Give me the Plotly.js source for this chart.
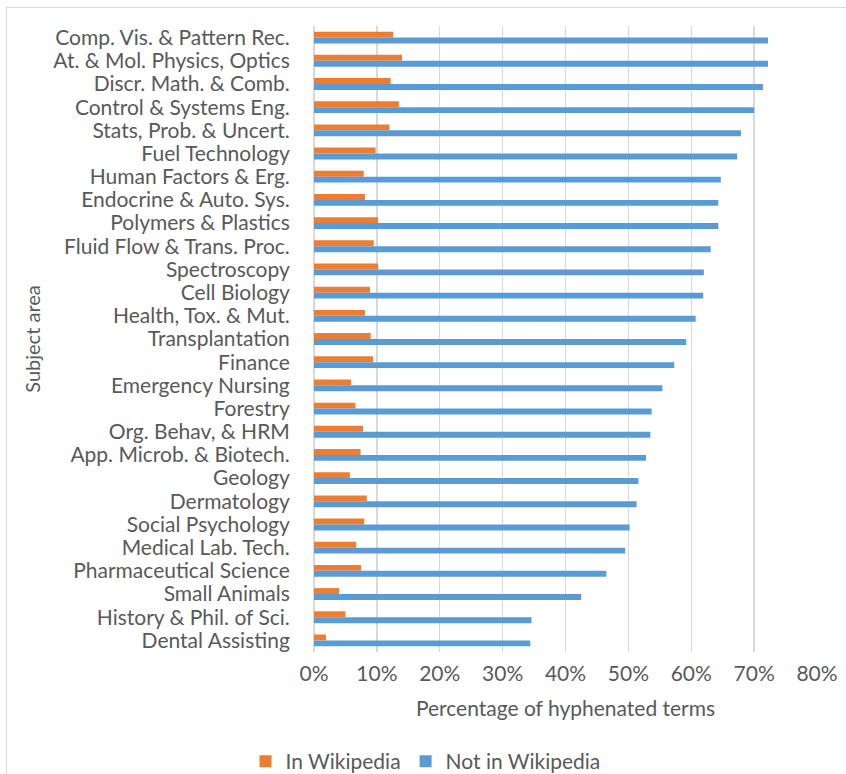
<!DOCTYPE html>
<html>
<head>
<meta charset="utf-8">
<script src="https://cdn.plot.ly/plotly-3.0.1.min.js"></script>
<style>
  html, body { margin: 0; padding: 0; background: #fff; }
  #wrap { position: relative; width: 846px; height: 774px; overflow: hidden; }
  #frame { position: absolute; left: 6px; top: 7px; width: 900px; height: 900px;
           border-top: 1.5px solid #d9d9d9; border-left: 1.5px solid #d9d9d9; pointer-events: none; }
  #chart { position: absolute; left: 0; top: 0; width: 846px; height: 774px; }
</style>
</head>
<body>
<div id="wrap">
  <div id="chart"></div>
  <div id="frame"></div>
</div>
<script>
const categories = [
  "Comp. Vis. & Pattern Rec.",
  "At. & Mol. Physics, Optics",
  "Discr. Math. & Comb.",
  "Control & Systems Eng.",
  "Stats, Prob. & Uncert.",
  "Fuel Technology",
  "Human Factors & Erg.",
  "Endocrine & Auto. Sys.",
  "Polymers & Plastics",
  "Fluid Flow & Trans. Proc.",
  "Spectroscopy",
  "Cell Biology",
  "Health, Tox. & Mut.",
  "Transplantation",
  "Finance",
  "Emergency Nursing",
  "Forestry",
  "Org. Behav, & HRM",
  "App. Microb. & Biotech.",
  "Geology",
  "Dermatology",
  "Social Psychology",
  "Medical Lab. Tech.",
  "Pharmaceutical Science",
  "Small Animals",
  "History & Phil. of Sci.",
  "Dental Assisting"
];

const inWikipedia = [
  0.126, 0.140, 0.122, 0.135, 0.120, 0.098, 0.079, 0.081, 0.102,
  0.095, 0.102, 0.089, 0.081, 0.090, 0.094, 0.059, 0.066, 0.078,
  0.074, 0.057, 0.084, 0.080, 0.067, 0.075, 0.040, 0.050, 0.019
];

const notInWikipedia = [
  0.722, 0.722, 0.714, 0.700, 0.679, 0.673, 0.647, 0.643, 0.643,
  0.631, 0.620, 0.619, 0.607, 0.592, 0.573, 0.554, 0.537, 0.535,
  0.528, 0.516, 0.513, 0.502, 0.495, 0.465, 0.425, 0.346, 0.344
];

const tickVals = [0, 0.1, 0.2, 0.3, 0.4, 0.5, 0.6, 0.7, 0.8];
const tickText = ["0%", "10%", "20%", "30%", "40%", "50%", "60%", "70%", "80%"];

const FONT = "Lato, 'Noto Sans', sans-serif";
const GREY = "#595959";

const traces = [
  {
    type: "bar", orientation: "h", name: "In Wikipedia",
    y: categories, x: inWikipedia,
    marker: { color: "#ED7D31" },
    hoverinfo: "x+y"
  },
  {
    type: "bar", orientation: "h", name: "Not in Wikipedia",
    y: categories, x: notInWikipedia,
    marker: { color: "#5B9BD5" },
    hoverinfo: "x+y"
  }
];

const layout = {
  width: 846, height: 774,
  margin: { l: 314, r: 29, t: 26, b: 122, autoexpand: false },
  paper_bgcolor: "#fff", plot_bgcolor: "#fff",
  barmode: "group", bargap: 0.49, bargroupgap: 0,
  font: { family: FONT, color: GREY, size: 21 },
  showlegend: true,
  legend: {
    orientation: "h", xref: "container", yref: "container",
    x: 0.503, xanchor: "center", y: 0.016, yanchor: "middle",
    font: { family: FONT, size: 21, color: GREY },
    traceorder: "normal", itemwidth: 30
  },
  xaxis: {
    range: [0, 0.8], tickmode: "array", tickvals: tickVals, ticktext: tickText,
    showgrid: true, gridcolor: "#d9d9d9", gridwidth: 1.3,
    zeroline: true, zerolinecolor: "#d9d9d9", zerolinewidth: 1.3,
    showline: false,
    ticks: "outside", ticklen: 3, tickcolor: "rgba(0,0,0,0)",
    tickfont: { family: FONT, size: 21, color: GREY },
    title: { text: "Percentage of hyphenated terms", font: { family: FONT, size: 21, color: GREY }, standoff: 17 },
    fixedrange: true
  },
  yaxis: {
    type: "category", autorange: "reversed",
    tickmode: "array", tickvals: categories, ticktext: categories,
    showgrid: false, zeroline: false, showline: false,
    ticks: "outside", ticklen: 19, tickcolor: "rgba(0,0,0,0)",
    tickfont: { family: FONT, size: 21, color: GREY },
    title: { text: "Subject area", font: { family: FONT, size: 20, color: GREY }, standoff: 7 },
    fixedrange: true
  }
};

Plotly.newPlot("chart", traces, layout, { displayModeBar: false, staticPlot: true });
</script>
</body>
</html>
